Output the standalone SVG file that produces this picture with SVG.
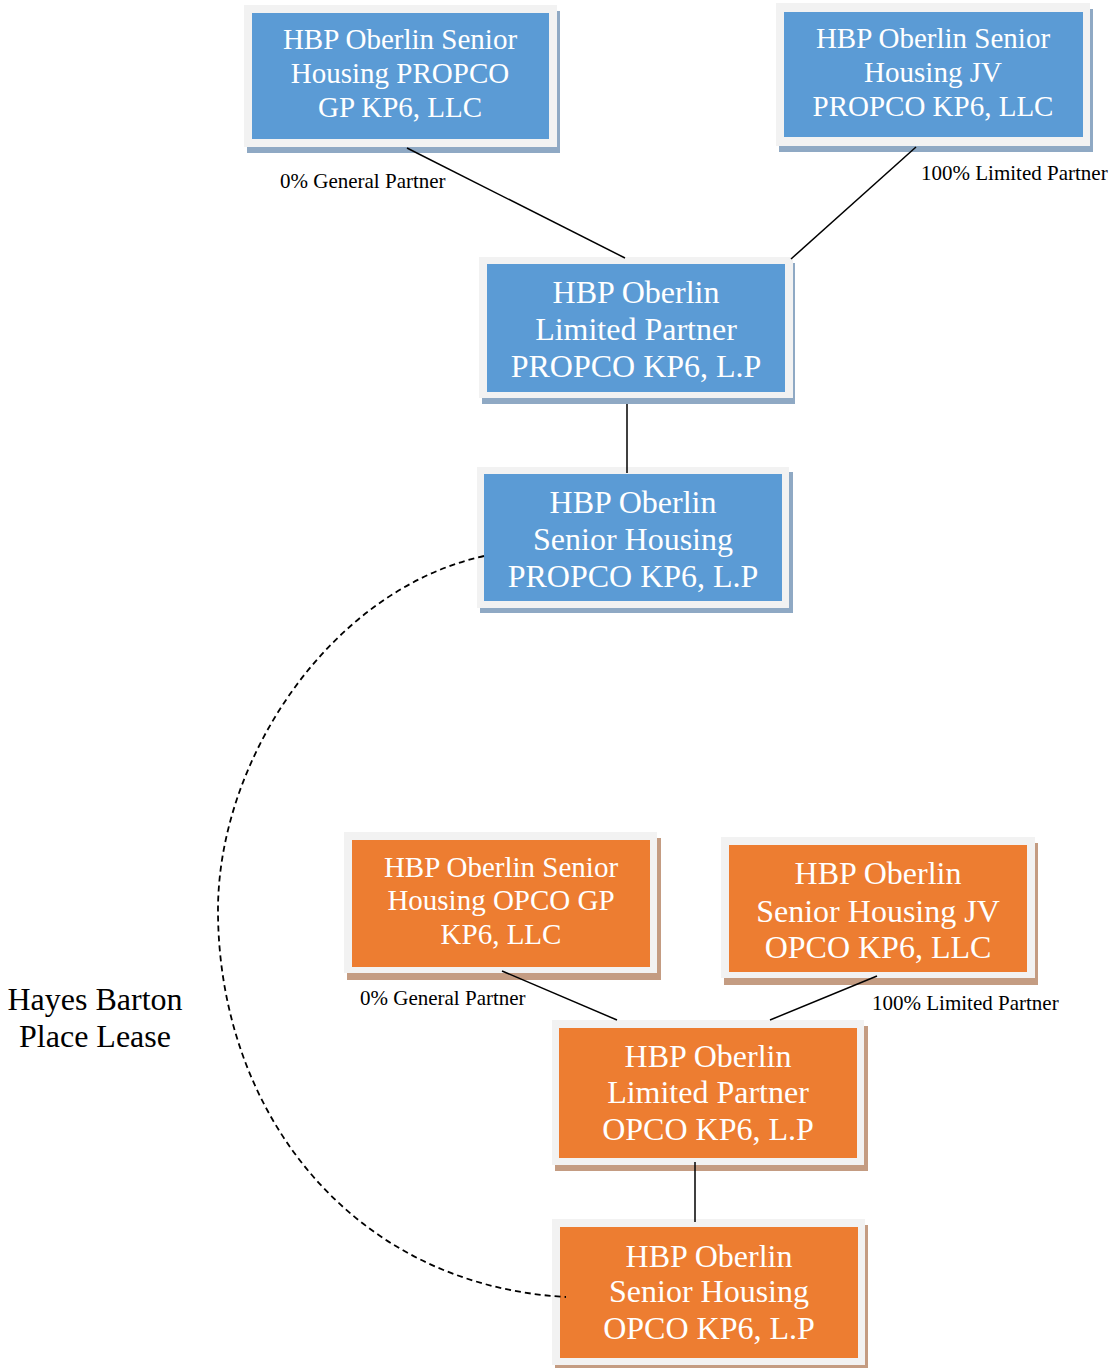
<svg xmlns="http://www.w3.org/2000/svg" width="1117" height="1368" viewBox="0 0 1117 1368">
<style>
.frame{fill:#f2f2f2}
.shb{fill:#8fa9c4}
.sho{fill:#c49c82}
.blue{fill:#5b9bd5}
.orange{fill:#ed7d31}
.t{font-family:"Liberation Serif","Times New Roman",serif;fill:#ffffff;text-anchor:middle}
.s29{font-size:29px}
.s32{font-size:32px}
.lbl{font-family:"Liberation Serif","Times New Roman",serif;font-size:21px;fill:#000000}
.big{font-family:"Liberation Serif","Times New Roman",serif;font-size:32px;fill:#000000;text-anchor:middle}
.ln{stroke:#000000;stroke-width:1.5;fill:none}
.dash{stroke:#000000;stroke-width:1.8;fill:none;stroke-dasharray:6 4}
</style>
<rect width="1117" height="1368" fill="#ffffff"/>
<g id="node-propco-gp">
<rect class="shb" x="247" y="11" width="313" height="142"/>
<rect class="frame" x="244" y="5" width="313" height="142"/>
<rect class="blue" x="252" y="13" width="297" height="126"/>
<text class="t s29" x="400" y="49">HBP Oberlin Senior</text>
<text class="t s29" x="400" y="83">Housing PROPCO</text>
<text class="t s29" x="400" y="117">GP KP6, LLC</text>
</g>
<g id="node-propco-jv">
<rect class="shb" x="779" y="9" width="314" height="143"/>
<rect class="frame" x="776" y="3" width="314" height="143"/>
<rect class="blue" x="784" y="12" width="299" height="125"/>
<text class="t s29" x="933" y="48">HBP Oberlin Senior</text>
<text class="t s29" x="933" y="82">Housing JV</text>
<text class="t s29" x="933" y="116">PROPCO KP6, LLC</text>
</g>
<g id="node-propco-lp">
<rect class="shb" x="482" y="263" width="313" height="141"/>
<rect class="frame" x="479" y="257" width="314" height="141"/>
<rect class="blue" x="487" y="264" width="298" height="128"/>
<text class="t s32" x="636" y="303">HBP Oberlin</text>
<text class="t s32" x="636" y="340">Limited Partner</text>
<text class="t s32" x="636" y="377">PROPCO KP6, L.P</text>
</g>
<g id="node-propco-sh">
<rect class="shb" x="480" y="472" width="313" height="141"/>
<rect class="frame" x="477" y="467" width="312" height="141"/>
<rect class="blue" x="484" y="474" width="298" height="127"/>
<text class="t s32" x="633" y="513">HBP Oberlin</text>
<text class="t s32" x="633" y="550">Senior Housing</text>
<text class="t s32" x="633" y="587">PROPCO KP6, L.P</text>
</g>
<g id="node-opco-gp">
<rect class="sho" x="347" y="838" width="314" height="142"/>
<rect class="frame" x="344" y="832" width="313" height="141"/>
<rect class="orange" x="352" y="840" width="298" height="127"/>
<text class="t s29" x="501" y="877">HBP Oberlin Senior</text>
<text class="t s29" x="501" y="910">Housing OPCO GP</text>
<text class="t s29" x="501" y="944">KP6, LLC</text>
</g>
<g id="node-opco-jv">
<rect class="sho" x="724" y="843" width="314" height="142"/>
<rect class="frame" x="721" y="837" width="314" height="141"/>
<rect class="orange" x="729" y="845" width="298" height="127"/>
<text class="t s32" x="878" y="884">HBP Oberlin</text>
<text class="t s32" x="878" y="922">Senior Housing JV</text>
<text class="t s32" x="878" y="958">OPCO KP6, LLC</text>
</g>
<g id="node-opco-lp">
<rect class="sho" x="555" y="1026" width="313" height="145"/>
<rect class="frame" x="552" y="1020" width="312" height="145"/>
<rect class="orange" x="559" y="1028" width="298" height="130"/>
<text class="t s32" x="708" y="1067">HBP Oberlin</text>
<text class="t s32" x="708" y="1103">Limited Partner</text>
<text class="t s32" x="708" y="1140">OPCO KP6, L.P</text>
</g>
<g id="node-opco-sh">
<rect class="sho" x="555" y="1225" width="313" height="146"/>
<rect class="frame" x="552" y="1219" width="313" height="146"/>
<rect class="orange" x="560" y="1227" width="298" height="131"/>
<text class="t s32" x="709" y="1267">HBP Oberlin</text>
<text class="t s32" x="709" y="1302">Senior Housing</text>
<text class="t s32" x="709" y="1339">OPCO KP6, L.P</text>
</g>
<g id="connectors">
<line class="ln" x1="407" y1="148" x2="625" y2="258"/>
<line class="ln" x1="916" y1="147" x2="791" y2="259"/>
<line class="ln" x1="627" y1="404" x2="627" y2="473"/>
<line class="ln" x1="502" y1="971" x2="617" y2="1020"/>
<line class="ln" x1="877" y1="976" x2="770" y2="1020"/>
<line class="ln" x1="695" y1="1162" x2="695" y2="1222"/>
<path class="dash" d="M484,556 C330,590 218,760 218,910 C218,1110 350,1285 566,1297"/>
</g>
<g id="labels">
<text class="lbl" x="280" y="188">0% General Partner</text>
<text class="lbl" x="921" y="180">100% Limited Partner</text>
<text class="lbl" x="360" y="1005">0% General Partner</text>
<text class="lbl" x="872" y="1010">100% Limited Partner</text>
<text class="big" x="95" y="1010">Hayes Barton</text>
<text class="big" x="95" y="1047">Place Lease</text>
</g>
</svg>
